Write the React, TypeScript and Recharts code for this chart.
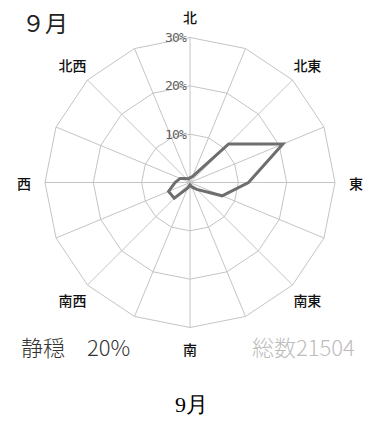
import { RadarChart, Radar, PolarGrid, PolarAngleAxis, PolarRadiusAxis } from "recharts"

// wind direction frequency, % of observations (September)
const directions = [
  "北", "北北東", "北東", "東北東", "東", "東南東", "南東", "南南東",
  "南", "南南西", "南西", "西南西", "西", "西北西", "北西", "北北西",
]
const frequency = [1.0, 1.3, 11.3, 20.8, 12.1, 7.2, 2.0, 1.0, 0.5, 1.2, 4.6, 4.8, 3.1, 2.2, 1.2, 0.8]
const radiusTicks = [10, 20, 30]

const monthLabel = "９月"
const calmLabel = "静穏　20%"
const totalLabel = "総数21504"
const caption = "9月"

const CX = 190
const CY = 182.5
const OUTER = 145
const LABEL_R = 166

const chartData = directions.map((dir, i) => ({ dir, v: frequency[i] }))

const jp = '"Noto Sans CJK JP", "Noto Sans", sans-serif'

function DirectionTick(props: any) {
  const { x, y, payload } = props
  const name: string = payload?.value ?? ""
  // only the 8 main directions get a label
  if (name.length > 2) return null
  const dx = x - CX
  const dy = y - CY
  const len = Math.sqrt(dx * dx + dy * dy) || 1
  return (
    <text
      x={CX + (dx / len) * LABEL_R}
      y={CY + (dy / len) * LABEL_R}
      textAnchor="middle"
      dominantBaseline="central"
      fontFamily={jp}
      fontSize={14}
      fontWeight={500}
      fill="#111"
    >
      {name}
    </text>
  )
}

function RadiusTick(props: any) {
  const { x, y, payload } = props
  return (
    <text
      x={x - 4}
      y={y}
      textAnchor="end"
      dominantBaseline="central"
      fontFamily='"DejaVu Sans Mono", monospace'
      fontSize={13}
      letterSpacing={-0.8}
      fill="#606060"
    >
      {`${payload.value}%`}
    </text>
  )
}

export default function App() {
  return (
    <div style={{ position: "absolute", left: 0, top: 0, width: 383, height: 423, background: "#fff" }}>
      <RadarChart
        width={383}
        height={370}
        data={chartData}
        cx={CX}
        cy={CY}
        outerRadius={OUTER}
        margin={{ top: 0, right: 0, bottom: 0, left: 0 }}
      >
        <PolarGrid gridType="polygon" stroke="#c4c4c4" strokeWidth={1} />
        <PolarAngleAxis dataKey="dir" tick={<DirectionTick />} tickLine={false} axisLine={false} />
        <PolarRadiusAxis
          angle={90}
          domain={[0, 30]}
          ticks={radiusTicks as any}
          tick={<RadiusTick />}
          axisLine={false}
          tickLine={false}
        />
        <Radar
          dataKey="v"
          stroke="#6e6e6e"
          strokeWidth={3}
          fill="none"
          fillOpacity={0}
          dot={false}
          isAnimationActive={false}
        />
      </RadarChart>

      <div style={{ position: "absolute", left: 22, top: 8, fontFamily: jp, fontSize: 23, lineHeight: "28px", color: "#222" }}>
        {monthLabel}
      </div>
      <div style={{ position: "absolute", left: 21, top: 332, fontFamily: jp, fontSize: 22, fontWeight: 300, lineHeight: "28px", color: "#333" }}>
        {calmLabel}
      </div>
      <div style={{ position: "absolute", left: 252, top: 332, fontFamily: jp, fontSize: 22, fontWeight: 300, lineHeight: "28px", color: "#bdbdbd" }}>
        {totalLabel}
      </div>
      <div style={{ position: "absolute", left: 0, width: 383, top: 390, textAlign: "center", fontFamily: "serif", fontSize: 22, lineHeight: "30px", color: "#000" }}>
        {caption}
      </div>
    </div>
  )
}
